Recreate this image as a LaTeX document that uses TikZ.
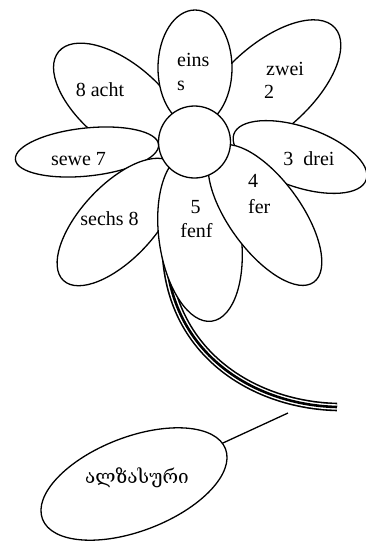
\documentclass[tikz,border=0pt]{standalone}
\usepackage{fontspec}
\setmainfont{Liberation Serif}
\newfontfamily\geofont[Script=Georgian]{DejaVu Serif}
\usetikzlibrary{shapes.geometric}

\begin{document}
\begin{tikzpicture}[x=1pt,y=-1pt,
  outline/.style={draw=black, line width=1.3pt},
  petal/.style={outline, ellipse, fill=white, inner sep=0pt, outer sep=0pt},
  word/.style={inner sep=0pt, font=\fontsize{20}{24}\selectfont},
  stemline/.style={line width=8.6pt, draw=black,
    postaction={draw=white, line width=5.4pt},
    postaction={draw=black, line width=2.6pt}},
  ]
\useasboundingbox (0,0) rectangle (366,544);

% stem, mostly hidden under the lower petal at its top end
\coordinate (stemtop) at (166,255);
\coordinate (stemend) at (337,407);
\path[stemline] (stemtop) .. controls (172,355) and (255,405) .. (stemend);

% tag hanging from the stem
\coordinate (stemtip) at (288,413);
\node[petal, minimum width=196pt, minimum height=94pt, rotate=21] (oval) at (134,484) {};
\draw[outline] (stemtip) -- (oval);
\node[inner sep=0pt, font=\geofont\fontsize{19}{22}\selectfont] (ovaltext) at (137,478) {ალზასური};

% petals, back to front
\node[petal, minimum width=180pt, minimum height=86pt, rotate=42]  (zwei) at (268,88) {};
\node[petal, minimum width=140pt, minimum height=60pt, rotate=-19] (drei) at (300,157) {};
\node[petal, minimum width=160pt, minimum height=80pt, rotate=-40] (acht) at (120,103) {};
\node[petal, minimum width=74pt,  minimum height=116pt]            (eins) at (195,68) {};
\node[petal, minimum width=144pt, minimum height=48pt, rotate=6]   (sewe) at (87,152) {};
\node[petal, minimum width=160pt, minimum height=74pt, rotate=47]  (sechs) at (118,222) {};
\node[petal, minimum width=82pt,  minimum height=170pt, rotate=8]  (fenf) at (200,237) {};
\node[petal, minimum width=166pt, minimum height=72pt, rotate=-54] (fer) at (265,215) {};

% flower centre
\node[outline, circle, fill=white, minimum size=72pt, inner sep=0pt] (middle) at (194.5,142) {};

% petal labels
\node[word, anchor=base west] (eins1) at (177,66) {eins};
\node[word, anchor=base west] (eins2) at (177,90) {s};
\node[word, anchor=base west] (zwei1) at (266,75) {zwei};
\node[word, anchor=base west] (zwei2) at (264,98) {2};
\node[word, anchor=base] (dreitext) at (309,165) {3~~drei};
\node[word, anchor=base west] (fer1) at (248,187) {4};
\node[word, anchor=base west] (fer2) at (248,213) {fer};
\node[word, anchor=base] (fenf1) at (195.5,213) {5};
\node[word, anchor=base] (fenf2) at (196.5,237) {fenf};
\node[word, anchor=base] (sechstext) at (109.5,225) {sechs 8};
\node[word, anchor=base] (sewetext) at (78.5,165) {sewe 7};
\node[word, anchor=base] (achttext) at (100,96) {8 acht};
\end{tikzpicture}
\end{document}
